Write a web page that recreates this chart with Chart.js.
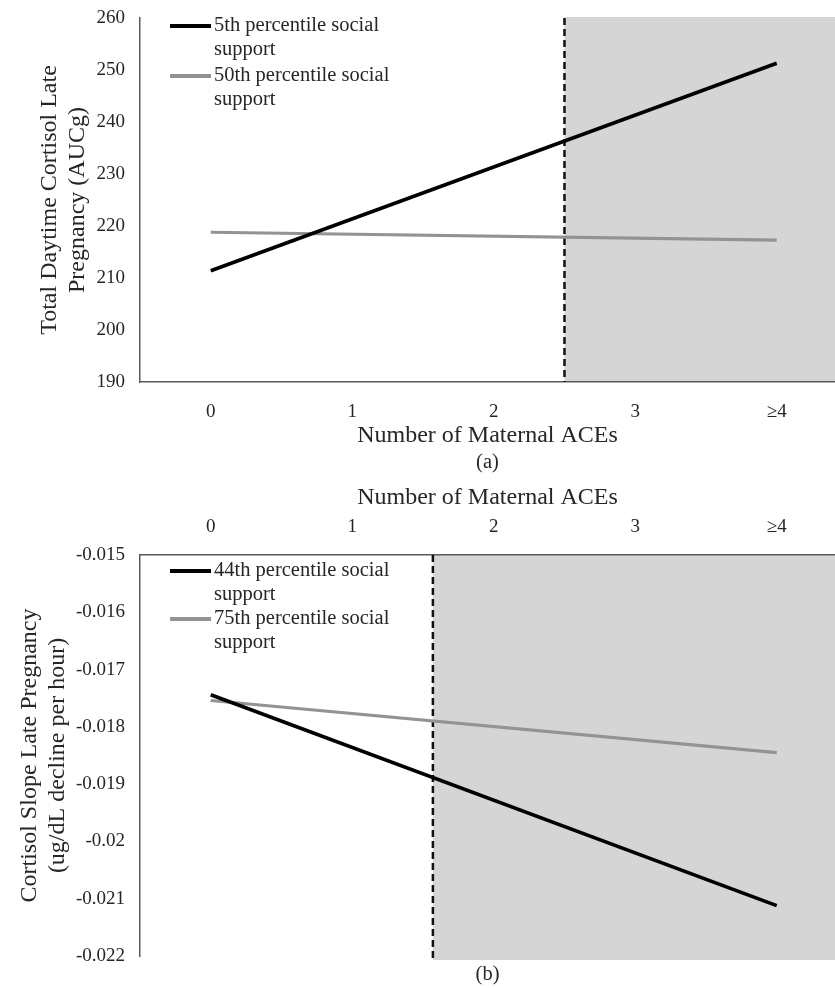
<!DOCTYPE html>
<html>
<head>
<meta charset="utf-8">
<script src="https://cdn.jsdelivr.net/npm/chart.js@4.4.1/dist/chart.umd.min.js"></script>
<style>
  html, body { margin: 0; padding: 0; background: #fff; overflow: hidden; }
  canvas { position: absolute; left: 0; }
  #chartA { top: 0; }
  #chartB { top: 480px; }
</style>
</head>
<body>
<canvas id="chartA" width="835" height="480"></canvas>
<canvas id="chartB" width="835" height="508"></canvas>
<script>
// x positions (number of maternal ACEs) where the lines start and end
const aceX = [0, 4];
const aceTicks = [0, 1, 2, 3, 4];
const aceTickLabels = ['0', '1', '2', '3', '≥4'];

// (a) total daytime cortisol
const aucLabels = [['5th percentile social', 'support'], ['50th percentile social', 'support']];
const auc5th = [211.4, 251.3];
const auc50th = [218.8, 217.3];
const aucTicks = [190, 200, 210, 220, 230, 240, 250, 260];
const aucTickLabels = ['190', '200', '210', '220', '230', '240', '250', '260'];
const aucRegion = 2.5;

// (b) cortisol slope
const slopeLabels = [['44th percentile social', 'support'], ['75th percentile social', 'support']];
const slope44th = [-0.01744, -0.02112];
const slope75th = [-0.01754, -0.01845];
const slopeTicks = [-0.022, -0.021, -0.02, -0.019, -0.018, -0.017, -0.016, -0.015];
const slopeTickLabels = ['-0.022', '-0.021', '-0.02', '-0.019', '-0.018', '-0.017', '-0.016', '-0.015'];
const slopeRegion = 1.57;

const seriesColors = ['#000000', '#939393'];
const serif = '"Liberation Serif", "Times New Roman", serif';
const ink = '#262626';
const axisColor = '#5a5a5a';

// shaded region, dashed marker, wrapped legend and panel caption
const decor = {
  id: 'decor',
  beforeDraw(chart, args, o) {
    const { ctx, chartArea: a } = chart;
    const sx = chart.scales.x.getPixelForValue(o.region);
    ctx.save();
    ctx.fillStyle = '#d5d5d5';
    ctx.fillRect(sx, a.top - o.shadeTop, a.right - sx, a.bottom - a.top + o.shadeTop + o.shadeExtra);
    ctx.restore();
  },
  beforeDatasetsDraw(chart, args, o) {
    const { ctx, chartArea: a } = chart;
    const sx = chart.scales.x.getPixelForValue(o.region);
    ctx.save();
    ctx.strokeStyle = '#111';
    ctx.lineWidth = 2.5;
    ctx.setLineDash([7, 4]);
    ctx.beginPath();
    ctx.moveTo(sx, a.top);
    ctx.lineTo(sx, a.bottom + o.shadeExtra);
    ctx.stroke();
    ctx.restore();
  },
  afterDatasetsDraw(chart, args, o) {
    const { ctx } = chart;
    ctx.save();
    ctx.font = '20.5px ' + serif;
    ctx.textBaseline = 'middle';
    o.labels.forEach((lines, i) => {
      const y = o.legendY + i * o.legendGap;
      ctx.strokeStyle = seriesColors[i];
      ctx.lineWidth = 4;
      ctx.beginPath();
      ctx.moveTo(170, y);
      ctx.lineTo(211, y);
      ctx.stroke();
      ctx.fillStyle = ink;
      lines.forEach((t, j) => ctx.fillText(t, 214, y + j * 24));
    });
    ctx.textAlign = 'center';
    const a = chart.chartArea;
    ctx.fillText(o.caption, (a.left + a.right) / 2, o.captionY);
    ctx.restore();
  }
};

function makePanel(id, cfg) {
  return new Chart(document.getElementById(id), {
    type: 'line',
    data: {
      datasets: cfg.series.map((s, i) => ({
        label: cfg.labels[i].join(' '),
        data: aceX.map((x, j) => ({ x: x, y: s[j] })),
        borderColor: seriesColors[i],
        borderWidth: i === 0 ? 3.6 : 3.2,
        pointRadius: 0,
        fill: false
      }))
    },
    options: {
      responsive: false,
      animation: false,
      layout: { padding: cfg.padding },
      plugins: {
        legend: { display: false },
        tooltip: { enabled: false },
        decor: {
          region: cfg.region, labels: cfg.labels,
          shadeTop: cfg.shadeTop, shadeExtra: cfg.shadeExtra,
          legendY: cfg.legendY, legendGap: cfg.legendGap,
          caption: cfg.caption, captionY: cfg.captionY
        }
      },
      scales: {
        x: {
          type: 'linear',
          position: cfg.xPos,
          min: -0.5,
          max: 4.412,
          afterBuildTicks: s => { s.ticks = aceTicks.map(v => ({ value: v })); },
          afterFit: s => { s.height = cfg.xHeight; },
          grid: { display: false, drawTicks: false },
          border: { color: axisColor, width: 1.5 },
          ticks: {
            padding: cfg.xTickPad,
            color: ink,
            font: { family: serif, size: 19 },
            callback: (v, i) => aceTickLabels[i]
          },
          title: {
            display: true,
            text: 'Number of Maternal ACEs',
            color: ink,
            font: { family: serif, size: 24, lineHeight: 1.15 },
            padding: cfg.xTitlePad
          }
        },
        y: {
          type: 'linear',
          min: cfg.yTicks[0],
          max: cfg.yTicks[cfg.yTicks.length - 1],
          afterBuildTicks: s => { s.ticks = cfg.yTicks.map(v => ({ value: v })); },
          afterFit: s => {
            s.width = 140;
            // let layout padding alone decide where the plot starts
            s.paddingTop = 0;
            s.paddingBottom = 0;
          },
          grid: { display: false, drawTicks: false },
          border: { color: axisColor, width: 1.5 },
          ticks: {
            padding: 15,
            color: ink,
            font: { family: serif, size: 19 },
            callback: (v, i) => cfg.yTickLabels[i]
          },
          title: {
            display: true,
            text: cfg.yTitle,
            color: ink,
            font: { family: serif, size: 24, lineHeight: 1.15 },
            padding: { top: cfg.yTitlePad, bottom: 0 }
          }
        }
      }
    },
    plugins: [decor]
  });
}

makePanel('chartA', {
  series: [auc5th, auc50th],
  labels: aucLabels,
  region: aucRegion,
  shadeTop: 1,
  shadeExtra: 0,
  yTicks: aucTicks,
  yTickLabels: aucTickLabels,
  yTitle: ['Total Daytime Cortisol Late', 'Pregnancy (AUCg)'],
  yTitlePad: 36,
  xPos: 'bottom',
  xHeight: 70,
  xTickPad: 19,
  xTitlePad: { top: 0, bottom: 2 },
  padding: { top: 18, right: 0, bottom: 28, left: 0 },
  legendY: 26,
  legendGap: 50,
  caption: '(a)',
  captionY: 463
});

makePanel('chartB', {
  series: [slope44th, slope75th],
  labels: slopeLabels,
  region: slopeRegion,
  shadeTop: 0,
  shadeExtra: 4,
  yTicks: slopeTicks,
  yTickLabels: slopeTickLabels,
  yTitle: ['Cortisol Slope Late Pregnancy', '(ug/dL decline per hour)'],
  yTitlePad: 16,
  xPos: 'top',
  xHeight: 75,
  xTickPad: 17,
  xTitlePad: { top: 4, bottom: 0 },
  padding: { top: 0, right: 0, bottom: 32, left: 0 },
  legendY: 91,
  legendGap: 48,
  caption: '(b)',
  captionY: 495
});
</script>
</body>
</html>
